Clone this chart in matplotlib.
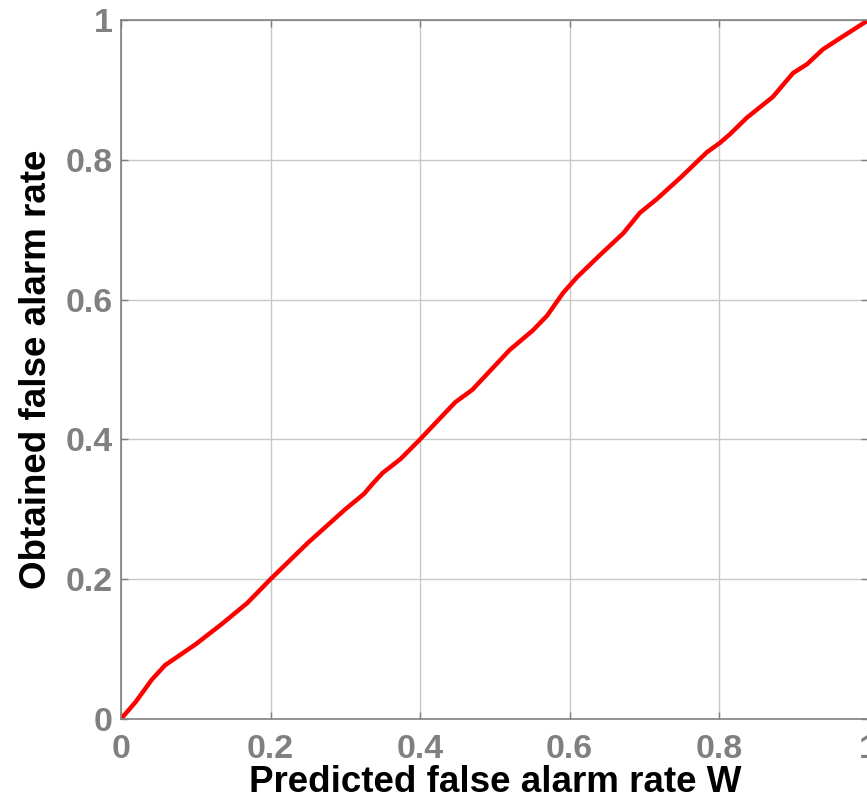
import matplotlib
matplotlib.use("Agg")
import matplotlib.pyplot as plt

predicted = [0, 0.02, 0.041, 0.059, 0.10, 0.135, 0.169, 0.2, 0.25, 0.30, 0.325, 0.337, 0.350, 0.374,
             0.40, 0.447, 0.470, 0.520, 0.551, 0.570, 0.591, 0.610, 0.641, 0.672, 0.694,
             0.717, 0.750, 0.784, 0.801, 0.815, 0.837, 0.872, 0.899, 0.918, 0.939, 0.962, 1.0]
obtained = [0, 0.025, 0.056, 0.077, 0.107, 0.136, 0.166, 0.200, 0.252, 0.300, 0.322, 0.337, 0.352, 0.372,
            0.400, 0.453, 0.471, 0.528, 0.556, 0.577, 0.609, 0.632, 0.664, 0.695, 0.724,
            0.744, 0.776, 0.811, 0.824, 0.837, 0.860, 0.890, 0.924, 0.937, 0.958, 0.974, 1.0]
ticks = [0, 0.2, 0.4, 0.6, 0.8, 1]
tick_labels = ["0", "0.2", "0.4", "0.6", "0.8", "1"]

plt.rcParams['font.family'] = ['Liberation Sans', 'DejaVu Sans']

fig = plt.figure(figsize=(8.67, 8.02), dpi=100)
ax = fig.add_axes([121/867, 83/802, 747.5/867, 699/802])
ax.plot(predicted, obtained, color='#ff0000', lw=3.2, solid_capstyle='round', solid_joinstyle='round')
ax.set_xlim(0, 1)
ax.set_ylim(0, 1)
ax.set_xticks(ticks)
ax.set_xticklabels(tick_labels)
ax.set_yticks(ticks)
ax.set_yticklabels(tick_labels)
ax.grid(True, color='#c8c8c8', lw=1.0)
ax.set_axisbelow(True)
for s in ax.spines.values():
    s.set_color('#808080')
    s.set_linewidth(1.2)
ax.tick_params(direction='in', length=5, color='#808080', labelcolor='#808080',
               labelsize=24.5, width=1, top=True, right=True)
for lab in ax.get_xticklabels() + ax.get_yticklabels():
    lab.set_fontweight('bold')
ax.tick_params(axis='x', pad=11)
ax.tick_params(axis='y', pad=6)
ax.set_xlabel('Predicted false alarm rate W', fontsize=26.5, fontweight='bold', color='black', labelpad=0)
ax.set_ylabel('Obtained false alarm rate', fontsize=26.5, fontweight='bold', color='black', labelpad=8)
fig.savefig('out.png', dpi=100)
